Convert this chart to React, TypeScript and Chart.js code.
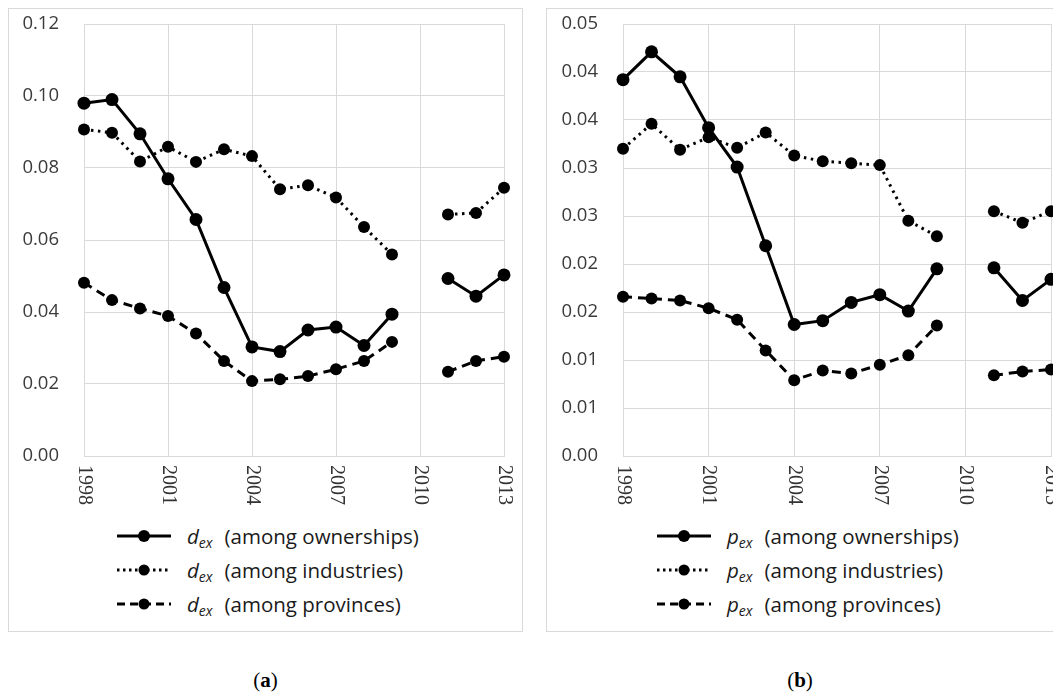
import React, { useEffect, useRef } from "react";
import { Chart, registerables } from "chart.js";

Chart.register(...registerables);

const years = ["1998", "1999", "2000", "2001", "2002", "2003", "2004", "2005", "2006", "2007", "2008", "2009", "2010", "2011", "2012", "2013"];
const xTickLabels = ["1998", "2001", "2004", "2007", "2010", "2013"];

const dOwnerships = [0.098, 0.099, 0.0895, 0.077, 0.0657, 0.0468, 0.0303, 0.029, 0.035, 0.0358, 0.0307, 0.0394, null, 0.0493, 0.0444, 0.0503];
const dIndustries = [0.0907, 0.0898, 0.0818, 0.0859, 0.0817, 0.0852, 0.0833, 0.0741, 0.0752, 0.0718, 0.0636, 0.056, null, 0.0671, 0.0675, 0.0745];
const dProvinces = [0.0481, 0.0433, 0.041, 0.0389, 0.034, 0.0264, 0.0208, 0.0213, 0.0222, 0.0241, 0.0264, 0.0317, null, 0.0234, 0.0264, 0.0276];

const pOwnerships = [0.0392, 0.0421, 0.0395, 0.0342, 0.0301, 0.0219, 0.0137, 0.0141, 0.016, 0.0168, 0.0151, 0.0195, null, 0.0196, 0.0162, 0.0184];
const pIndustries = [0.032, 0.0346, 0.0319, 0.0332, 0.0321, 0.0337, 0.0313, 0.0307, 0.0305, 0.0303, 0.0245, 0.0229, null, 0.0255, 0.0243, 0.0255];
const pProvinces = [0.0166, 0.0164, 0.0162, 0.0154, 0.0142, 0.011, 0.0079, 0.0089, 0.0086, 0.0095, 0.0105, 0.0136, null, 0.0084, 0.0088, 0.009];

const dTickLabels = ["0.00", "0.02", "0.04", "0.06", "0.08", "0.10", "0.12"];
const pTickLabels = ["0.00", "0.01", "0.01", "0.02", "0.02", "0.03", "0.03", "0.04", "0.04", "0.05"];

const seriesNames = ["(among ownerships)", "(among industries)", "(among provinces)"];

const GRID = "#d9d9d9";

const xLabelPlugin = {
  id: "xLabelsClockwise",
  afterDraw(chart: any) {
    const xs = chart.scales.x;
    const ctx = chart.ctx;
    ctx.save();
    ctx.font = '20px "Liberation Serif"';
    ctx.fillStyle = "#333333";
    ctx.textAlign = "left";
    ctx.textBaseline = "middle";
    years.forEach((lab, i) => {
      if (!xTickLabels.includes(lab)) return;
      const px = xs.getPixelForValue(i);
      ctx.save();
      ctx.translate(px, xs.top + 9);
      ctx.rotate(Math.PI / 2);
      ctx.fillText(lab, 0, 0);
      ctx.restore();
    });
    ctx.restore();
  },
};

function makeDatasets(own: any[], ind: any[], prov: any[]) {
  const common = {
    borderColor: "#000",
    backgroundColor: "#000",
    pointBackgroundColor: "#000",
    pointBorderColor: "#000",
    pointBorderWidth: 0,
    tension: 0,
    spanGaps: false,
    clip: false as any,
  };
  return [
    { ...common, label: "own", data: own, borderWidth: 3, pointRadius: 6.5 },
    { ...common, label: "ind", data: ind, borderWidth: 3, borderDash: [2.5, 4.5], pointRadius: 6 },
    { ...common, label: "prov", data: prov, borderWidth: 3, borderDash: [9, 6], pointRadius: 6 },
  ];
}

function Panel(props: { own: any[]; ind: any[]; prov: any[]; max: number; step: number; tickLabels: string[]; yWidth: number; rightPad: number; width: number }) {
  const ref = useRef<HTMLCanvasElement | null>(null);
  useEffect(() => {
    if (!ref.current) return;
    const chart = new Chart(ref.current, {
      type: "line",
      data: { labels: years, datasets: makeDatasets(props.own, props.ind, props.prov) as any },
      options: {
        responsive: false,
        animation: false,
        layout: { padding: { top: 14, right: props.rightPad, left: 0, bottom: 0 } },
        plugins: { legend: { display: false }, tooltip: { enabled: false } },
        scales: {
          x: {
            type: "category",
            offset: false,
            grid: {
              color: (c: any) => (c.index % 3 === 0 ? GRID : "rgba(0,0,0,0)"),
              drawTicks: false,
              lineWidth: 1,
            },
            border: { color: GRID },
            ticks: { display: false },
            afterFit: (s: any) => {
              s.height = 54;
            },
          },
          y: {
            min: 0,
            max: props.max,
            grid: { color: GRID, drawTicks: true, tickLength: 25, tickColor: "rgba(0,0,0,0)" },
            border: { color: GRID },
            ticks: {
              stepSize: props.step,
              padding: 0,
              color: "#3a3a3a",
              font: { family: '"Open Sans"', size: 18.5 },
              callback: (_v: any, i: number) => props.tickLabels[i],
            },
            afterFit: (s: any) => {
              s.width = props.yWidth;
            },
          },
        },
      },
      plugins: [xLabelPlugin],
    });
    return () => chart.destroy();
  }, []);
  return <canvas ref={ref} width={props.width} height={500} style={{ position: "absolute", left: 1, top: 1, width: props.width, height: 500 }} />;
}

function Sample({ kind }: { kind: number }) {
  const dash = kind === 0 ? undefined : kind === 1 ? "2.5 3.5" : "8 5";
  return (
    <svg width={54} height={14} style={{ display: "block" }}>
      <line x1={0} y1={7} x2={54} y2={7} stroke="#000" strokeWidth={3} strokeDasharray={dash} />
      <circle cx={27} cy={7} r={kind === 0 ? 6 : 5.5} fill="#000" />
    </svg>
  );
}

function Legend({ sym, left }: { sym: string; left: number }) {
  return (
    <>
      {seriesNames.map((name, i) => (
        <div
          key={name}
          style={{
            position: "absolute",
            left,
            top: 512 + i * 34,
            height: 30,
            display: "flex",
            alignItems: "center",
            fontFamily: '"Open Sans"',
            fontSize: 20.5,
            color: "#1a1a1a",
            whiteSpace: "nowrap",
          }}
        >
          <Sample kind={i} />
          <span style={{ marginLeft: 16, fontStyle: "italic" }}>{sym}</span>
          <span style={{ fontStyle: "italic", fontSize: 14, position: "relative", top: 6 }}>ex</span>
          <span style={{ marginLeft: 12 }}>{name}</span>
        </div>
      ))}
    </>
  );
}

export default function App() {
  const box: React.CSSProperties = {
    position: "absolute",
    top: 0,
    height: 622,
    border: `1px solid ${GRID}`,
    background: "#fff",
    boxSizing: "content-box",
  };
  return (
    <div style={{ position: "relative", width: 1053, height: 685, overflow: "hidden", background: "#fff" }}>
      <div style={{ ...box, left: 0, width: 513 }}>
        <Panel own={dOwnerships} ind={dIndustries} prov={dProvinces} max={0.12} step={0.02} tickLabels={dTickLabels} yWidth={74} rightPad={19} width={513} />
        <Legend sym="d" left={108} />
      </div>
      <div style={{ ...box, left: 538, width: 540 }}>
        <Panel own={pOwnerships} ind={pIndustries} prov={pProvinces} max={0.045} step={0.005} tickLabels={pTickLabels} yWidth={75} rightPad={37} width={540} />
        <Legend sym="p" left={110} />
      </div>
      <div style={{ position: "absolute", left: 0, width: 515, top: 660, textAlign: "center", fontFamily: '"Liberation Serif", serif', fontSize: 21, lineHeight: "24px" }}>
        (<b>a</b>)
      </div>
      <div style={{ position: "absolute", left: 692, width: 200, top: 660, textAlign: "center", fontFamily: '"Liberation Serif", serif', fontSize: 21, lineHeight: "24px" }}>
        (<b>b</b>)
      </div>
    </div>
  );
}
